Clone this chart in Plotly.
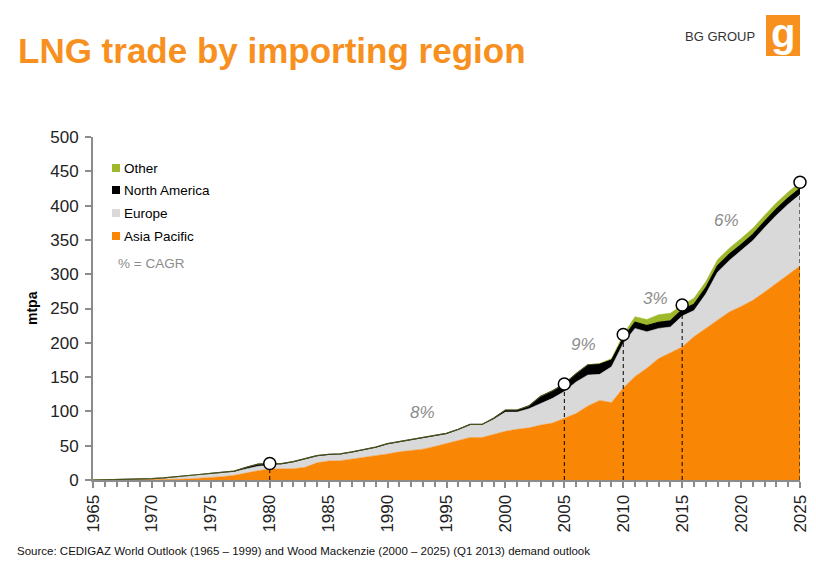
import plotly.graph_objects as go

years = list(range(1965, 2026))

asia_pacific = [0, 0, 0, 0, 0, 0.3, 0.5, 1, 1.5, 2.4, 3.9, 4.9, 6.8, 10.7, 13.6, 16, 16, 16.5, 18.5, 25,
                27.7, 28.2, 30.6, 33, 35, 38, 41, 43, 45, 49, 53, 58, 62, 62, 67, 71, 74, 76, 80, 83,
                90, 97, 108, 116, 113, 134, 151, 163, 177, 185, 194, 209, 221, 233, 245, 253, 262, 274, 287, 299,
                312]
europe = [0, 0.3, 1, 2, 2, 1.7, 2.5, 4, 5.5, 5.6, 5.8, 6.8, 5.7, 5.8, 6.4, 5.5, 7, 9.2, 11.6, 9.5,
          9.2, 9.3, 9.9, 10.5, 12.5, 14, 14, 15, 15, 14, 14, 15, 18, 18, 21.5, 28, 25, 28, 32, 36,
          39, 46, 45, 38, 52, 65, 70, 53, 44, 38, 45, 38, 50, 70, 75, 81, 87, 94, 99, 103,
          104]
north_america = [0, 0, 0, 0, 0, 0, 0, 0, 0, 0, 0, 0, 0.5, 2, 3, 2.5, 1, 1, 1.5, 1,
                 0.5, 0.5, 0.5, 0.5, 0.5, 1, 1, 1, 1, 1, 1, 1, 1, 1, 1.5, 3, 3, 4, 10, 11,
                 11, 12, 15, 15, 10, 8, 9, 9, 9, 9, 9, 9, 9, 9, 9, 9, 9, 9, 9, 9,
                 9]
other = [0, 0, 0, 0, 0, 0, 0, 0, 0, 0, 0, 0, 0, 0, 0, 0, 0, 0, 0, 0,
         0, 0, 0, 0, 0, 0, 0, 0, 0, 0, 0, 0, 0, 0, 0, 0, 0, 0, 0, 0,
         0, 0, 0, 1, 2, 5, 8, 9, 11, 11, 7, 9, 9, 9, 9, 9, 9, 9, 9, 9,
         9]

marker_years = [1980, 2005, 2010, 2015, 2025]
cagr_labels = ["8%", "9%", "3%", "6%"]
cagr_x = [1993.0, 2006.6, 2012.7, 2018.8]
cagr_y = [99, 197, 265, 379]

series_names = ["Asia Pacific", "Europe", "North America", "Other"]
series_colors = ["#FA8605", "#D9D9D9", "#000000", "#9DB82A"]
series_values = [asia_pacific, europe, north_america, other]

fig = go.Figure()
for name, color, vals in zip(series_names, series_colors, series_values):
    lw = 1.2 if name == "North America" else 0.5
    fig.add_trace(go.Scatter(x=years, y=vals, name=name, stackgroup="one", mode="lines",
                             line=dict(color=color, width=lw), fillcolor=color,
                             showlegend=False, hoverinfo="skip"))

totals = [a + e + n + o for a, e, n, o in zip(asia_pacific, europe, north_america, other)]
mk_tot = [totals[years.index(y)] for y in marker_years]
for yr, tv in zip(marker_years, mk_tot):
    fig.add_trace(go.Scatter(x=[yr, yr], y=[0, tv], mode="lines",
                             line=dict(color="black", width=1, dash="4px,3px"),
                             showlegend=False, hoverinfo="skip"))
fig.add_trace(go.Scatter(x=marker_years, y=mk_tot, mode="markers", cliponaxis=False,
                         marker=dict(size=12, color="white", line=dict(color="black", width=1.5)),
                         showlegend=False, hoverinfo="skip"))

L, R, T, B = 93, 800, 137, 480
def pxx(x):
    return (x - L) / (R - L)
def pxy(y):
    return (B - y) / (B - T)

annotations = []
shapes = []
for lab, x, y in zip(cagr_labels, cagr_x, cagr_y):
    annotations.append(dict(x=x, y=y, xref="x", yref="y", text="<i>" + lab + "</i>", showarrow=False,
                            font=dict(family="Arial, Liberation Sans", size=17, color="#8C8C8C")))

# legend (manual, to match the compact square+text layout)
legend_items = ["Other", "North America", "Europe", "Asia Pacific"]
legend_cols = ["#9DB82A", "#000000", "#D9D9D9", "#FA8605"]
legend_ys = [168, 190, 213, 236]
for name, col, ly in zip(legend_items, legend_cols, legend_ys):
    shapes.append(dict(type="rect", xref="paper", yref="paper",
                       x0=pxx(112), x1=pxx(120), y0=pxy(ly + 4), y1=pxy(ly - 4),
                       fillcolor=col, line=dict(width=0)))
    annotations.append(dict(x=pxx(122), y=pxy(ly), xref="paper", yref="paper", text=name,
                            showarrow=False, xanchor="left", yanchor="middle",
                            font=dict(family="Arial, Liberation Sans", size=13.5, color="#000")))
annotations.append(dict(x=pxx(116), y=pxy(263), xref="paper", yref="paper", text="% = CAGR",
                        showarrow=False, xanchor="left", yanchor="middle",
                        font=dict(family="Arial, Liberation Sans", size=13.5, color="#8C8C8C")))

# title
annotations.append(dict(x=pxx(16), y=pxy(51), xref="paper", yref="paper",
                        text="<b>LNG trade by importing region</b>", showarrow=False,
                        xanchor="left", yanchor="middle",
                        font=dict(family="Arial, Liberation Sans", size=35, color="#F7901E")))
# logo
annotations.append(dict(x=pxx(757), y=pxy(37), xref="paper", yref="paper", text="BG GROUP",
                        showarrow=False, xanchor="right", yanchor="middle",
                        font=dict(family="Arial, Liberation Sans", size=13, color="#333")))
shapes.append(dict(type="rect", xref="paper", yref="paper", x0=pxx(766), x1=pxx(800),
                   y0=pxy(56), y1=pxy(15), fillcolor="#F7901E", line=dict(width=0)))
annotations.append(dict(x=pxx(783), y=pxy(33), xref="paper", yref="paper", text="<b>g</b>",
                        showarrow=False, xanchor="center", yanchor="middle",
                        font=dict(family="Arial, Liberation Sans", size=40, color="white")))
# y title
annotations.append(dict(x=pxx(32), y=pxy(308), xref="paper", yref="paper", text="<b>mtpa</b>",
                        showarrow=False, textangle=-90, xanchor="center", yanchor="middle",
                        font=dict(family="Arial, Liberation Sans", size=14, color="#000")))
# source
annotations.append(dict(x=pxx(15), y=pxy(551), xref="paper", yref="paper",
                        text="Source: CEDIGAZ World Outlook (1965 \u2013 1999) and Wood Mackenzie (2000 \u2013 2025) (Q1 2013) demand outlook",
                        showarrow=False, xanchor="left", yanchor="middle",
                        font=dict(family="Arial, Liberation Sans", size=11.5, color="#111")))

fig.update_layout(
    width=816, height=571, autosize=False,
    margin=dict(l=L, r=816 - R, t=T, b=571 - B),
    paper_bgcolor="white", plot_bgcolor="white",
    showlegend=False,
    annotations=annotations, shapes=shapes,
    font=dict(family="Arial, Liberation Sans", color="#222"),
)
fig.update_xaxes(range=[1965, 2025], tick0=1965, dtick=5, showgrid=False, zeroline=False,
                 automargin=False,
                 showline=True, linecolor="#8C8C8C", linewidth=2,
                 ticks="outside", ticklen=6, tickcolor="#8C8C8C", tickwidth=2,
                 tickangle=-90, tickfont=dict(size=17, color="#222"),
                 minor=dict(dtick=1, ticks="outside", ticklen=5, tickcolor="#8C8C8C", tickwidth=2))
fig.update_yaxes(range=[0, 500], dtick=50, showgrid=False, zeroline=False,
                 automargin=False,
                 showline=True, linecolor="#8C8C8C", linewidth=2,
                 ticks="outside", ticklen=6, tickcolor="#8C8C8C", tickwidth=2,
                 ticklabelstandoff=3,
                 tickfont=dict(size=17, color="#222"))

fig.write_html("out.html")
